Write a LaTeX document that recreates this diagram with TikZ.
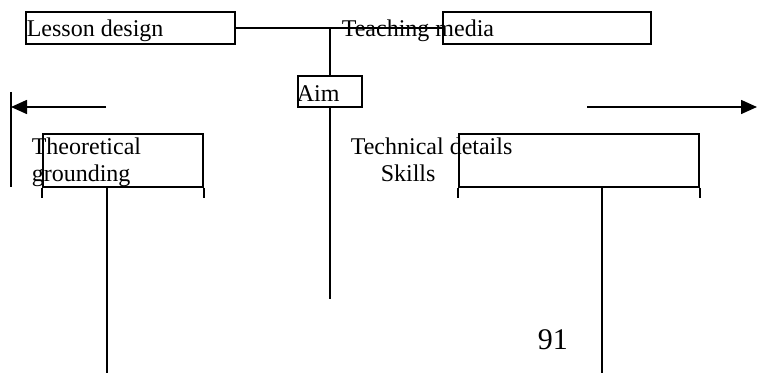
\documentclass[tikz,border=0pt]{standalone}
\usepackage{fontspec}
\setmainfont{Liberation Serif}
\usetikzlibrary{arrows.meta}

\tikzset{box/.style={draw,inner sep=0pt},
	txt/.style={anchor=base west,inner sep=0pt,font=\fontsize{12}{13.5}\selectfont}}

\begin{document}
\begin{tikzpicture}[x=0.5pt,y=-0.5pt,line width=0.8pt]
\useasboundingbox (0,0) rectangle (757,373);
		\node[box,minimum width=104.5pt,minimum height=16pt] (LD) at (130.5,28) {};
		\node[box,minimum width=104pt,minimum height=16pt] (TM) at (547,28) {};
		\node[box,minimum width=32pt,minimum height=15.5pt] (A) at (330,91.5) {};
		\node[box,minimum width=80pt,minimum height=26.5pt] (TG) at (123,160.5) {};
		\node[box,minimum width=120pt,minimum height=26.5pt] (TD) at (579,160.5) {};
		\coordinate (J) at (330,28);
		\coordinate (B) at (330,299);
		\coordinate (P) at (106,107);
		\coordinate (Q) at (11,107);
		\coordinate (R) at (587,107);
		\coordinate (S) at (757,107);
		\coordinate (U) at (11,92);
		\coordinate (V) at (11,187);
		\coordinate (G) at (107,187);
		\coordinate (H) at (107,373);
		\coordinate (K) at (602,187);
		\coordinate (M) at (602,373);
		\draw (LD.east) -- (TM.west);
		\draw (J) -- (A.north);
		\draw (A.south) -- (B);
		\draw[-{Triangle[length=8pt,width=7pt]}] (P) -- (Q);
		\draw[-{Triangle[length=8pt,width=7pt]}] (R) -- (S);
		\draw (U) -- (V);
		%\draw (TG.south) -- (H);
		\draw (G) -- (H);
		\draw (K) -- (M);
		\draw (TG.south west) -- ++(0,10);
		\draw (TG.south east) -- ++(0,10);
		\draw (TD.south west) -- ++(0,10);
		\draw (TD.south east) -- ++(0,10);
		\node[txt] (tLD) at (26,37) {Lesson design};
		\node[txt] (tTM) at (341,37) {Teaching media};
		\node[txt] (tA) at (296,102) {Aim};
		\node[txt] (tTG) at (31,155) {Theoretical};
		\node[txt] (tTGb) at (31,182) {grounding};
		\node[txt] (tTD) at (350,155) {Technical details};
		\node[txt] (tTDb) at (380,182) {Skills};
		\node[txt,font=\fontsize{15}{18}\selectfont] (pg) at (537,350) {91};
\end{tikzpicture}
\end{document}
